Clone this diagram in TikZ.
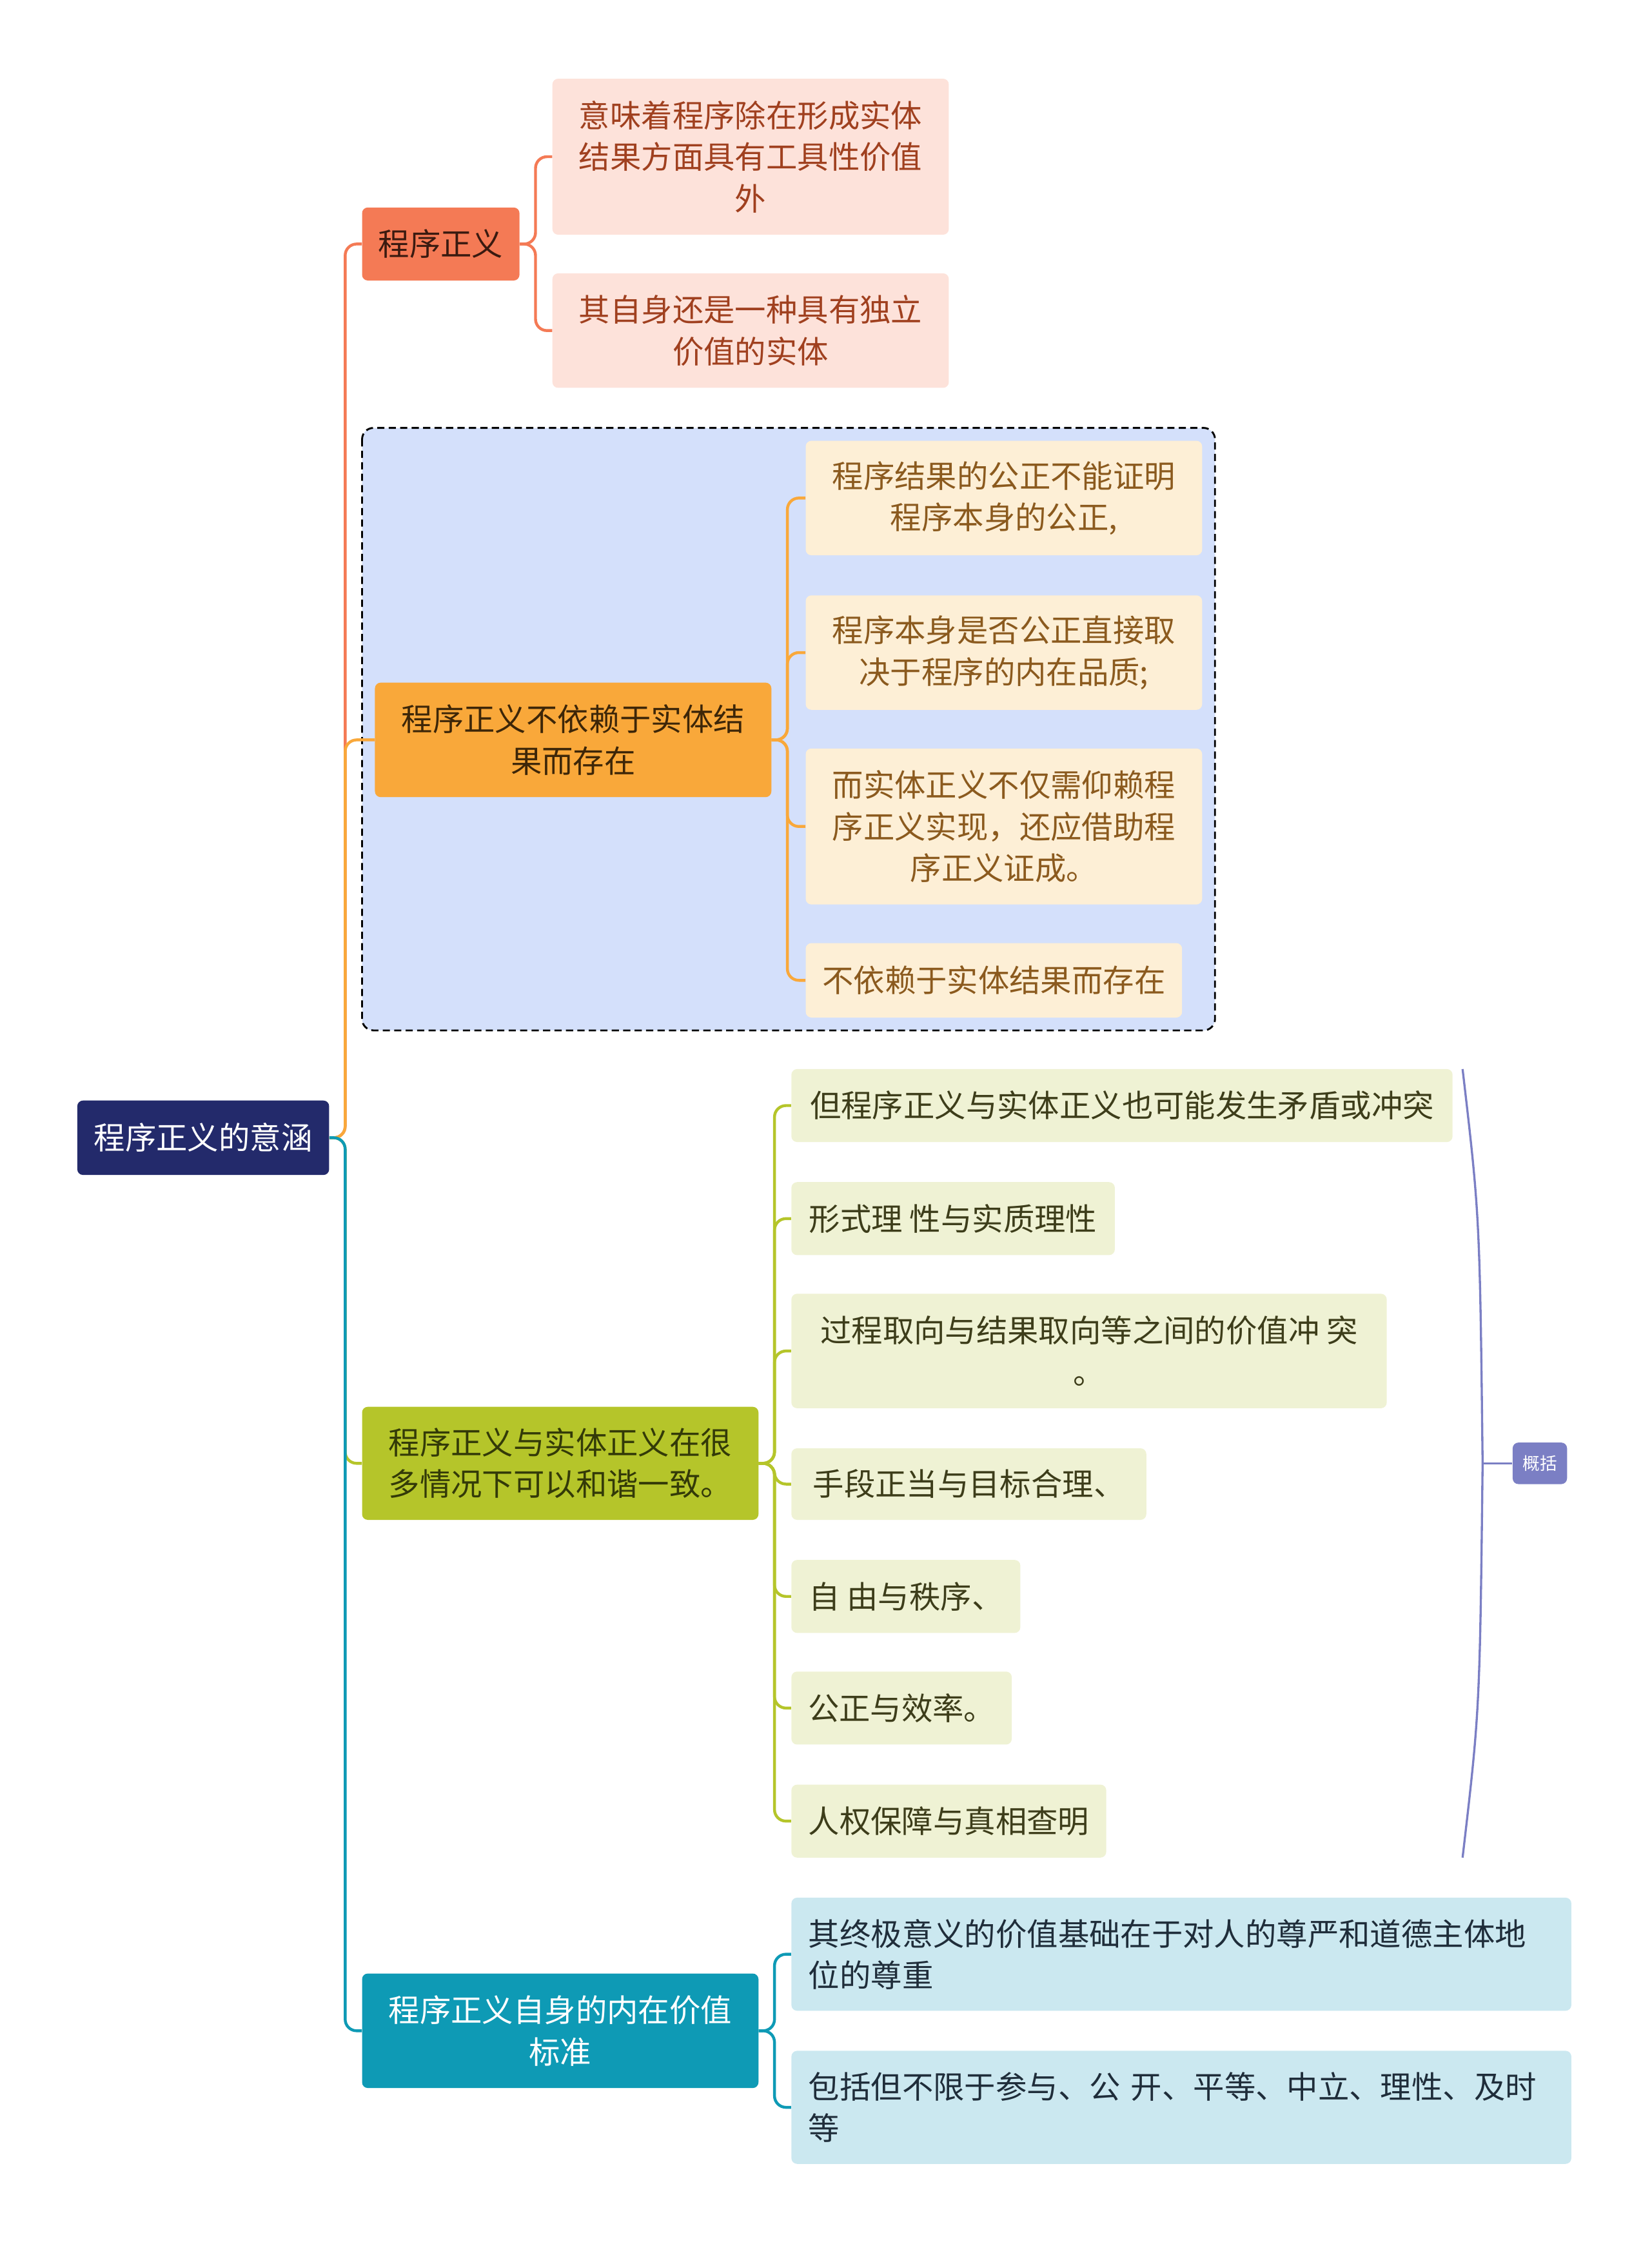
\documentclass[tikz,border=0pt]{standalone}
\usepackage{fontspec}
\setmainfont{Noto Sans CJK SC}
\begin{document}
\begin{tikzpicture}[x=1pt,y=1pt,
 base/.style={rounded corners=4pt,inner sep=0pt,font=\fontsize{21.8}{29}\selectfont,align=center},
 root/.style={base,fill=c1root,text=white},
 ca/.style={base,fill=c1a,text=c1adark},
 caa/.style={base,fill=c1al,text=c1atext},
 cb/.style={base,fill=c1b,text=c1bdark},
 cbb/.style={base,fill=c1bl,text=c1btext},
 cc/.style={base,fill=c1c,text=c1cdark},
 cd/.style={base,fill=c1d,text=white},
 cdd/.style={base,fill=c1dl,text=c1dtext,align=left},
 ln/.style={line width=2pt,rounded corners=8pt}]
\definecolor{c1root}{HTML}{232A6B}
\definecolor{c1a}{HTML}{F47A55}\definecolor{c1al}{HTML}{FDE2DA}\definecolor{c1adark}{HTML}{3A1A10}\definecolor{c1atext}{HTML}{A0401F}
\definecolor{c1b}{HTML}{F9A83A}\definecolor{c1bl}{HTML}{FDEFD6}\definecolor{c1bdark}{HTML}{3D2608}\definecolor{c1btext}{HTML}{8B5A1E}
\definecolor{c1c}{HTML}{B5C52A}\definecolor{c1cl}{HTML}{EFF2D4}\definecolor{c1cdark}{HTML}{333A08}\definecolor{c1ctext}{HTML}{3D3D1A}
\definecolor{c1d}{HTML}{0E9AB5}\definecolor{c1dl}{HTML}{CBE8F0}\definecolor{c1dtext}{HTML}{1F2D3A}
\definecolor{c1bg}{HTML}{D4E0FB}\definecolor{c1sum}{HTML}{7B7FC4}
\useasboundingbox (0,0) rectangle (1154,-1568);
\newcommand\bx[7]{\node[#6,minimum width={(#4-#2)*1pt},minimum height={(#5-#3)*1pt}] (#1) at ({(#2+#4)/2},{-(#3+#5)/2}) {#7};}
\draw[dash pattern=on 5pt off 3pt,line width=1.3pt,rounded corners=8pt,fill=c1bg] (253,-299) rectangle (849,-720);
\bx{r}{54}{769}{230}{821}{root}{程序正义的意涵}
\bx{a}{253}{145}{363}{196}{ca}{程序正义}
\bx{a1}{386}{55}{663}{164}{caa}{意味着程序除在形成实体\\结果方面具有工具性价值\\外}
\bx{a2}{386}{191}{663}{271}{caa}{其自身还是一种具有独立\\价值的实体}
\bx{b}{262}{477}{539}{557}{cb}{程序正义不依赖于实体结\\果而存在}
\bx{b1}{563}{308}{840}{388}{cbb}{程序结果的公正不能证明\\程序本身的公正,}
\bx{b2}{563}{416}{840}{496}{cbb}{程序本身是否公正直接取\\决于程序的内在品质;}
\bx{b3}{563}{523}{840}{632}{cbb}{而实体正义不仅需仰赖程\\序正义实现，还应借助程\\序正义证成。}
\bx{b4}{563}{659}{826}{711}{cbb}{不依赖于实体结果而存在}
\bx{c}{253}{983}{530}{1062}{cc}{程序正义与实体正义在很\\多情况下可以和谐一致。}
\bx{c1}{553}{747}{1015}{798}{cbb,fill=c1cl,text=c1ctext}{但程序正义与实体正义也可能发生矛盾或冲突}
\bx{c2}{553}{826}{779}{877}{cbb,fill=c1cl,text=c1ctext}{形式理 性与实质理性}
\bx{c3}{553}{904}{969}{984}{cbb,fill=c1cl,text=c1ctext}{过程取向与结果取向等之间的价值冲 突\\。}
\bx{c4}{553}{1012}{801}{1062}{cbb,fill=c1cl,text=c1ctext}{手段正当与目标合理、}
\bx{c5}{553}{1090}{713}{1141}{cbb,fill=c1cl,text=c1ctext}{自 由与秩序、}
\bx{c6}{553}{1168}{707}{1219}{cbb,fill=c1cl,text=c1ctext}{公正与效率。}
\bx{c7}{553}{1247}{773}{1298}{cbb,fill=c1cl,text=c1ctext}{人权保障与真相查明}
\bx{d}{253}{1379}{530}{1459}{cd}{程序正义自身的内在价值\\标准}
\node[cdd,minimum width=545pt,minimum height=79pt,text width=521pt] (d1) at (825.5,-1365.5) {其终极意义的价值基础在于对人的尊严和道德主体地\\位的尊重};
\node[cdd,minimum width=545pt,minimum height=79pt,text width=521pt] (d2) at (825.5,-1472.5) {包括但不限于参与、公 开、平等、中立、理性、及时\\等};
\bx{s}{1057}{1008}{1095}{1037}{root,fill=c1sum,font=\fontsize{12}{14}\selectfont}{概括}
% connectors
\draw[ln,c1a] (r.east) -- ++(11,0) |- (a.west);
\draw[ln,c1b] (r.east) -- ++(11,0) |- (b.west);
\draw[ln,c1c] (r.east) -- ++(11,0) |- (c.west);
\draw[ln,c1d] (r.east) -- ++(11,0) |- (d.west);
\foreach \t in {a1,a2}{\draw[ln,c1a] (a.east) -- ++(11,0) |- (\t.west);}
\foreach \t in {b1,b2,b3,b4}{\draw[ln,c1b] (b.east) -- ++(11,0) |- (\t.west);}
\foreach \t in {c1,c2,c3,c4,c5,c6,c7}{\draw[ln,c1c] (c.east) -- ++(11,0) |- (\t.west);}
\foreach \t in {d1,d2}{\draw[ln,c1d] (d.east) -- ++(11,0) |- (\t.west);}
\coordinate (bt) at (1022,-747); \coordinate (bb) at (1022,-1298); \coordinate (bm) at (1036,-1022.5);
\draw[c1sum,line width=1.5pt] (bt) .. controls (1034,-850) .. (bm) .. controls (1034,-1195) .. (bb);
\draw[c1sum,line width=1.5pt] (bm) -- (s.west);
\end{tikzpicture}
\end{document}
